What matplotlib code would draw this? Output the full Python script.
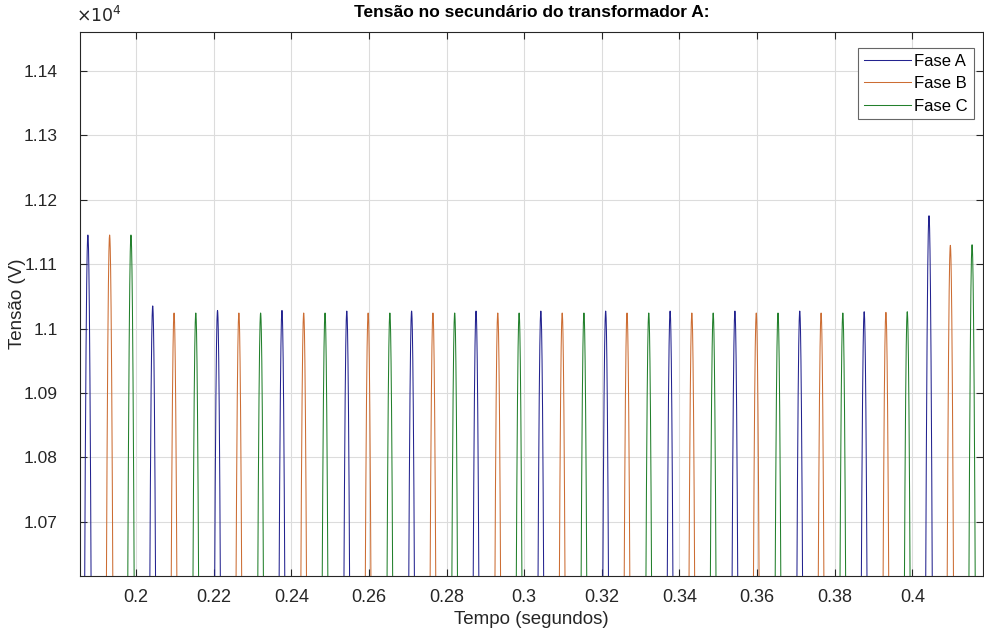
import numpy as np
import matplotlib.pyplot as plt
from matplotlib.ticker import FuncFormatter, MultipleLocator

plt.rcParams['font.family'] = ['Liberation Sans', 'DejaVu Sans']

freq = 60.0  # Hz

# instantes dos picos (s) e valor de pico (V) de cada fase
peak_t_a = [0.1876, 0.2043, 0.2210, 0.2376, 0.2543, 0.2710, 0.2876,
            0.3043, 0.3210, 0.3376, 0.3543, 0.3710, 0.3876, 0.4043]
peak_v_a = [11145, 11035, 11028, 11028, 11027, 11027, 11027,
            11027, 11027, 11027, 11027, 11027, 11026, 11175]

peak_t_b = [0.1932, 0.2098, 0.2265, 0.2432, 0.2598, 0.2765, 0.2932,
            0.3098, 0.3265, 0.3432, 0.3598, 0.3765, 0.3932, 0.4098]
peak_v_b = [11145, 11024, 11024, 11024, 11024, 11024, 11024,
            11024, 11024, 11024, 11024, 11024, 11025, 11129]

peak_t_c = [0.1987, 0.2154, 0.2321, 0.2487, 0.2654, 0.2821, 0.2987,
            0.3154, 0.3321, 0.3487, 0.3654, 0.3821, 0.3987, 0.4154]
peak_v_c = [11145, 11024, 11024, 11024, 11024, 11024, 11024,
            11024, 11024, 11024, 11024, 11024, 11026, 11130]

fases = ['Fase A', 'Fase B', 'Fase C']
cores = ['#23238f', '#cc6d33', '#22802c']

t = np.arange(0.185, 0.419, 1e-5)


def onda(t, tp, vp):
    # cada ciclo senoidal usa o valor de pico mais proximo
    tp = np.asarray(tp)
    vp = np.asarray(vp, dtype=float)
    idx = np.abs(t[:, None] - tp[None, :]).argmin(axis=1)
    return vp[idx] * np.cos(2 * np.pi * freq * (t - tp[idx]))


fig = plt.figure(figsize=(9.84, 6.36), dpi=100)
ax = fig.add_axes([0.0813, 0.0943, 0.9177, 0.8554])

for (tp, vp), nome, cor in zip([(peak_t_a, peak_v_a), (peak_t_b, peak_v_b),
                                (peak_t_c, peak_v_c)], fases, cores):
    ax.plot(t, onda(t, tp, vp), color=cor, lw=0.75, label=nome)

ax.set_xlim(0.18557, 0.41822)
ax.set_ylim(10616, 11460)
ax.xaxis.set_major_locator(MultipleLocator(0.02))
ax.yaxis.set_major_locator(MultipleLocator(100))
ax.xaxis.set_major_formatter(FuncFormatter(lambda v, p: f'{v:g}'))
ax.yaxis.set_major_formatter(FuncFormatter(lambda v, p: f'{v / 1e4:g}'))
ax.text(-0.004, 1.012, r'$\times10^{4}$', transform=ax.transAxes,
        fontsize=12.5, color='#262626', ha='left', va='bottom')

ax.grid(True, color='#dcdcdc', lw=0.8)
ax.set_axisbelow(True)
ax.tick_params(direction='in', top=True, right=True, labelsize=13,
               colors='#262626', length=5, width=0.8)
ax.tick_params(axis='x', pad=9)
ax.tick_params(axis='y', pad=16, labelsize=12.5)
for s in ax.spines.values():
    s.set_color('#262626')
    s.set_linewidth(0.8)

ax.set_title('Tensão no secundário do transformador A:', fontsize=12.5,
             fontweight='bold', pad=11)
ax.set_xlabel('Tempo (segundos)', fontsize=13.5, color='#262626', labelpad=4)
ax.set_ylabel('Tensão (V)', fontsize=13.5, color='#262626')
ax.yaxis.set_label_coords(-0.06, 0.5)

leg = ax.legend(loc='upper right', fontsize=12, handlelength=2.8,
                handletextpad=0.2, labelspacing=0.45, borderpad=0.35,
                borderaxespad=0, fancybox=False, framealpha=1,
                edgecolor='#666666', bbox_to_anchor=(0.9895, 0.971))
leg.get_frame().set_linewidth(0.8)

fig.savefig('out.png', dpi=100)
